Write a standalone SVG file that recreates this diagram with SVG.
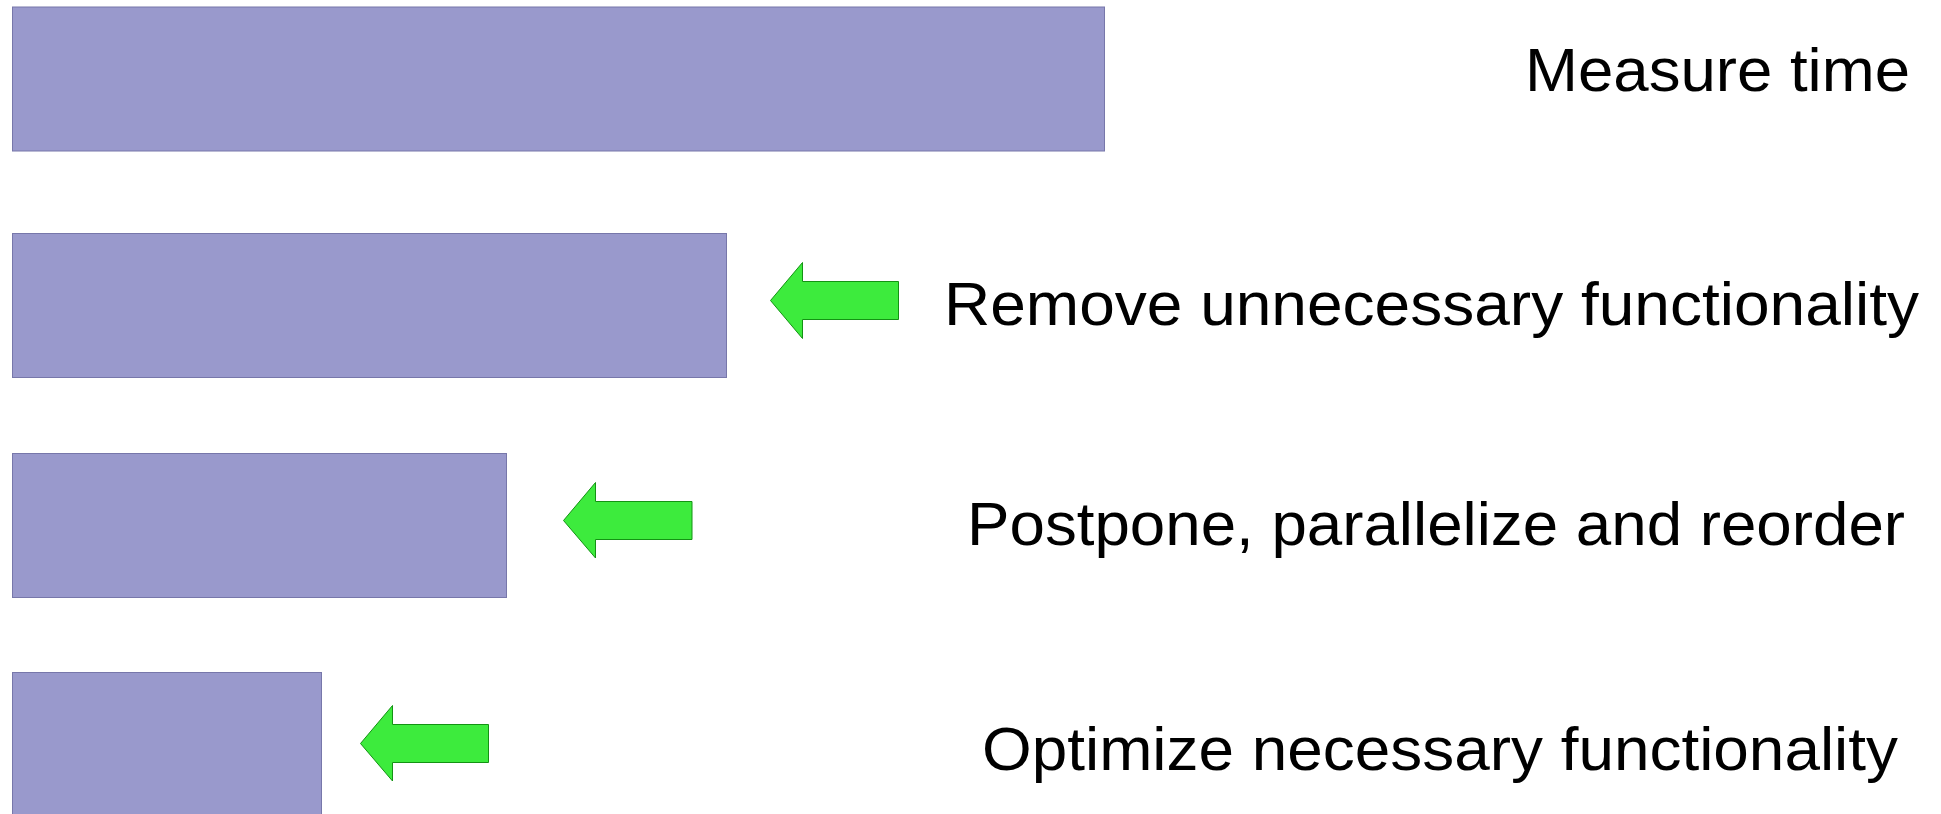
<svg xmlns="http://www.w3.org/2000/svg" width="1941" height="814" viewBox="0 0 1941 814">
  <style>
    .bar { fill: #9999cc; stroke: #7777aa; stroke-width: 1; }
    .arrow { fill: #3deb3d; stroke: #139313; stroke-width: 1; stroke-linejoin: miter; }
    .label { font-family: "Liberation Sans", Arial, sans-serif; font-size: 61px; fill: #000000; }
  </style>
  <rect width="1941" height="814" fill="#ffffff"/>

  <g id="bar-measure">
    <rect class="bar" x="12.5" y="7" width="1092" height="144"/>
  </g>
  <g id="bar-remove">
    <rect class="bar" x="12.5" y="233.5" width="714" height="144"/>
  </g>
  <g id="bar-postpone">
    <rect class="bar" x="12.5" y="453.5" width="494" height="144"/>
  </g>
  <g id="bar-optimize">
    <rect class="bar" x="12.5" y="672.5" width="309" height="160"/>
  </g>

  <g id="connectors">
    <polygon id="arrow-remove" class="arrow" points="770.5,300.5 802.5,262.5 802.5,281.5 898.5,281.5 898.5,319.5 802.5,319.5 802.5,338.5"/>
    <polygon id="arrow-postpone" class="arrow" points="563.5,520.5 595.5,482.5 595.5,501.5 692,501.5 692,539.5 595.5,539.5 595.5,558"/>
    <polygon id="arrow-optimize" class="arrow" points="360.5,743.5 392.5,705.5 392.5,724.5 488.5,724.5 488.5,762.5 392.5,762.5 392.5,781"/>
  </g>

  <g id="label-measure">
    <text class="label" x="1525" y="91" textLength="385" lengthAdjust="spacingAndGlyphs">Measure time</text>
  </g>
  <g id="label-remove">
    <text class="label" x="944" y="325" textLength="975" lengthAdjust="spacingAndGlyphs">Remove unnecessary functionality</text>
  </g>
  <g id="label-postpone">
    <text class="label" x="967" y="545" textLength="938" lengthAdjust="spacingAndGlyphs">Postpone, parallelize and reorder</text>
  </g>
  <g id="label-optimize">
    <text class="label" x="982" y="770" textLength="916" lengthAdjust="spacingAndGlyphs">Optimize necessary functionality</text>
  </g>
</svg>
